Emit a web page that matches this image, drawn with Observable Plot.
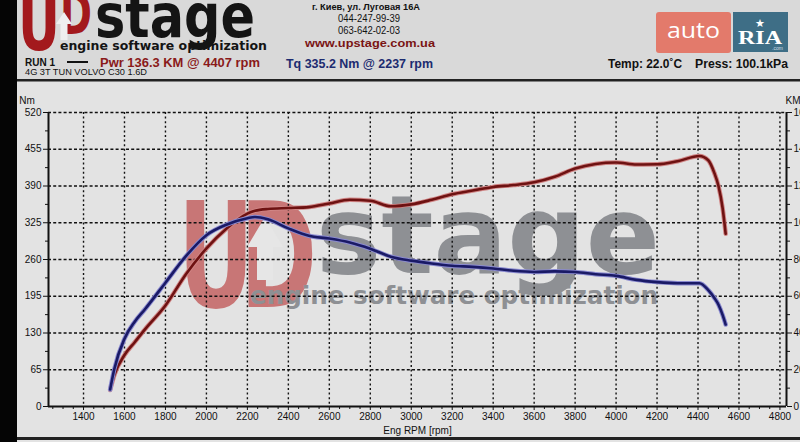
<!DOCTYPE html>
<html><head><meta charset="utf-8">
<script src="https://cdn.jsdelivr.net/npm/d3@7"></script>
<script src="https://cdn.jsdelivr.net/npm/@observablehq/plot@0.6"></script>
<style>
html,body{margin:0;padding:0;background:#dcdcdc;}
#wrap{position:relative;width:800px;height:442px;overflow:hidden;background:#e3e3e3;font-family:"Liberation Sans",Arial,sans-serif;}
#bg{position:absolute;left:0;top:0;}
#chart{position:absolute;left:0;top:81px;}
.b{font-weight:bold;}
</style></head><body>
<div id="wrap">
<svg id="bg" width="800" height="442" xmlns="http://www.w3.org/2000/svg" font-family="Liberation Sans, Arial, sans-serif">
  <rect x="0" y="0" width="800" height="80" fill="#d9d9d9"/>
  <rect x="0" y="81" width="800" height="356" fill="#e3e3e3"/>
  <!-- watermark -->
  <g>
    <text x="240" y="307" font-family="DejaVu Sans" font-weight="bold" font-size="147" fill="#c87676" textLength="77" lengthAdjust="spacingAndGlyphs">D</text>
    <text x="178" y="307" font-family="DejaVu Sans" font-weight="bold" font-size="147" fill="#c87676" textLength="76" lengthAdjust="spacingAndGlyphs">U</text>
    <polygon points="265,217 283,247 273,247 273,280 257,280 257,247 247,247" fill="#e6e6e6"/>
    <text x="316" y="273" font-family="DejaVu Sans" font-weight="bold" font-size="108" fill="#8e9094" textLength="344" lengthAdjust="spacingAndGlyphs">stage</text>
    <text x="250" y="304" font-family="DejaVu Sans" font-weight="bold" font-size="25" fill="#8e9094" textLength="408" lengthAdjust="spacingAndGlyphs">engine software optimization</text>
  </g>
  <!-- header logo -->
  <text x="60" y="34" font-family="DejaVu Sans" font-weight="bold" font-size="58" fill="#a3191d" textLength="32" lengthAdjust="spacingAndGlyphs">D</text>
  <text x="18" y="50" font-family="DejaVu Sans" font-weight="bold" font-size="76" fill="#a3191d" textLength="42" lengthAdjust="spacingAndGlyphs">U</text>
  <polygon points="64,12 72,24 67.5,24 67.5,40 60.5,40 60.5,24 56,24" fill="#efefef"/>
  <text x="95" y="37" font-family="DejaVu Sans" font-weight="bold" font-size="61" fill="#141414" textLength="160" lengthAdjust="spacingAndGlyphs">stage</text>
  <text x="60" y="50" font-family="DejaVu Sans" font-weight="bold" font-size="12" fill="#141414" textLength="207" lengthAdjust="spacingAndGlyphs">engine software optimization</text>
  <text x="25" y="66" class="b" font-size="10.5" fill="#111" textLength="30" lengthAdjust="spacingAndGlyphs">RUN 1</text>
  <line x1="67" x2="88" y1="62" y2="62" stroke="#111" stroke-width="2"/>
  <text x="100" y="67" class="b" font-size="12.5" fill="#8a1a1a" textLength="160" lengthAdjust="spacingAndGlyphs">Pwr  136.3 KM @ 4407 rpm</text>
  <text x="25" y="75" font-size="9.5" fill="#111" textLength="122" lengthAdjust="spacingAndGlyphs">4G 3T TUN VOLVO C30 1.6D</text>
  <text x="312" y="10" class="b" font-size="9.5" fill="#111" textLength="108" lengthAdjust="spacingAndGlyphs">г. Киев, ул. Луговая 16А</text>
  <text x="338" y="22" font-size="10" fill="#111" textLength="62" lengthAdjust="spacingAndGlyphs">044-247-99-39</text>
  <text x="338" y="34" font-size="10" fill="#111" textLength="62" lengthAdjust="spacingAndGlyphs">063-642-02-03</text>
  <text x="305" y="47" class="b" font-size="10.5" fill="#7a1414" textLength="130" lengthAdjust="spacingAndGlyphs">www.upstage.com.ua</text>
  <text x="286" y="68" class="b" font-size="12.5" fill="#1c2b70" textLength="147" lengthAdjust="spacingAndGlyphs">Tq 335.2 Nm @ 2237 rpm</text>
  <text x="608" y="68" class="b" font-size="12" fill="#111" textLength="74" lengthAdjust="spacingAndGlyphs">Temp: 22.0˚C</text>
  <text x="695" y="68" class="b" font-size="12" fill="#111" textLength="93" lengthAdjust="spacingAndGlyphs">Press: 100.1kPa</text>
  <!-- autoRIA -->
  <rect x="656" y="12" width="75" height="41" rx="3" fill="#e37a6b"/>
  <text x="667" y="38" font-family="Open Sans, Liberation Sans" font-size="21" fill="#ffffff" textLength="53" lengthAdjust="spacingAndGlyphs">auto</text>
  <rect x="733" y="12" width="55" height="40" fill="#3e6e86"/>
  <text x="738" y="44" font-family="Liberation Serif" font-weight="bold" font-size="19" fill="#ffffff" textLength="44" lengthAdjust="spacingAndGlyphs">RIA</text>
  <text x="755" y="27" font-family="DejaVu Sans" font-size="11" fill="#ffffff">★</text>
  <text x="772" y="50" font-size="5" fill="#cfdde5">.com</text>
  <!-- borders -->
  <rect x="0" y="79" width="800" height="2.5" fill="#222"/>
  <rect x="0" y="437" width="800" height="3" fill="#222"/>
  <rect x="0" y="0" width="17" height="442" fill="#050505"/>
</svg>
<div id="chart"></div>
</div>
<script>
// ---- data ----
const rpm = [1530,1550,1600,1650,1700,1800,1900,2000,2100,2200,2237,2300,2400,2500,2600,2700,2800,2900,3000,3100,3200,3300,3400,3500,3600,3700,3800,3900,4000,4100,4200,4300,4407,4450,4480,4500,4520,4535];
const torqueNm = [30,66,120,150,172,219,266,303,322,333,335.2,331,315,302,297,290,279,265,258,253,249,247,244,240,238,239,238,234,231,224,220,218,218,206,192,180,162,145];
const powerKM = [9,17,28,35,42,55,72,86,97,105,106.5,107.5,108,108.5,110.5,112.5,112,109,110,112.5,115.5,117.5,119.5,120.5,122,125,129.5,132,132.8,131.7,131.8,133.5,136.3,134,127,120,108,94];
const yTicksNm = [0,65,130,195,260,325,390,455,520];
const yTicksKM = [0,20,40,60,80,100,120,140,160];
const xTicks = [1400,1600,1800,2000,2200,2400,2600,2800,3000,3200,3400,3600,3800,4000,4200,4400,4600,4800];
const xDomain = [1229, 4832];
const nmMax = 520, kmMax = 160;

const kmToNm = v => v * nmMax / kmMax;
const tq = rpm.map((r, i) => ({rpm: r, v: torqueNm[i]}));
const pw = rpm.map((r, i) => ({rpm: r, v: kmToNm(powerKM[i])}));
const yMinor = d3.range(32.5, 520, 65);
const xMinor = d3.range(1250, 4832, 50).filter(d => d % 200 !== 0);

const chart = Plot.plot({
  width: 800, height: 357,
  marginLeft: 48, marginRight: 14, marginTop: 31, marginBottom: 32,
  x: {domain: xDomain},
  y: {domain: [0, nmMax]},
  style: {background: "transparent", fontFamily: "'Liberation Sans', Arial, sans-serif", fontSize: "10px", color: "#111", overflow: "visible"},
  marks: [
    Plot.ruleY(yTicksNm.filter(d => d > 0), {stroke: "#111", strokeWidth: 1.4, strokeDasharray: "3,2.2"}),
    Plot.ruleX(xTicks, {stroke: "#111", strokeWidth: 1.4, strokeDasharray: "2,2.6"}),
    Plot.line(pw, {x: "rpm", y: "v", stroke: "#d08585", strokeWidth: 4.5, curve: "monotone-x"}),
    Plot.line(pw, {x: "rpm", y: "v", stroke: "#6e1212", strokeWidth: 2.6, curve: "monotone-x"}),
    Plot.line(tq, {x: "rpm", y: "v", stroke: "#8a8ad0", strokeWidth: 4.5, curve: "monotone-x"}),
    Plot.line(tq, {x: "rpm", y: "v", stroke: "#1a1a66", strokeWidth: 2.6, curve: "monotone-x"}),
    Plot.axisY({ticks: yTicksNm, tickSize: 5, tickPadding: 2, label: null}),
    Plot.axisY({ticks: yMinor, tickSize: 3, tickFormat: () => "", label: null}),
    Plot.axisY({anchor: "right", ticks: yTicksNm, tickSize: 5, tickPadding: 2, tickFormat: (d, i) => String(yTicksKM[i]), label: null}),
    Plot.axisY({anchor: "right", ticks: yMinor, tickSize: 3, tickFormat: () => "", label: null}),
    Plot.axisX({ticks: xTicks, tickSize: 4, tickPadding: 2, tickFormat: d => String(d), label: "Eng RPM [rpm]", labelAnchor: "center", labelArrow: "none", labelOffset: 27}),
    Plot.axisX({ticks: xMinor, tickSize: 3, tickFormat: () => "", label: null}),
    Plot.ruleX(xDomain, {stroke: "#111", strokeWidth: 2}),
    Plot.ruleY([0], {stroke: "#111", strokeWidth: 2})
  ]
});
const svg = d3.select(chart);
svg.append("text").attr("x", 27).attr("y", 23).attr("fill", "#111").attr("font-size", 10).text("Nm");
svg.append("text").attr("x", 793).attr("y", 23).attr("fill", "#111").attr("font-size", 10).text("KM");
document.getElementById("chart").appendChild(chart);
</script>
</body></html>
